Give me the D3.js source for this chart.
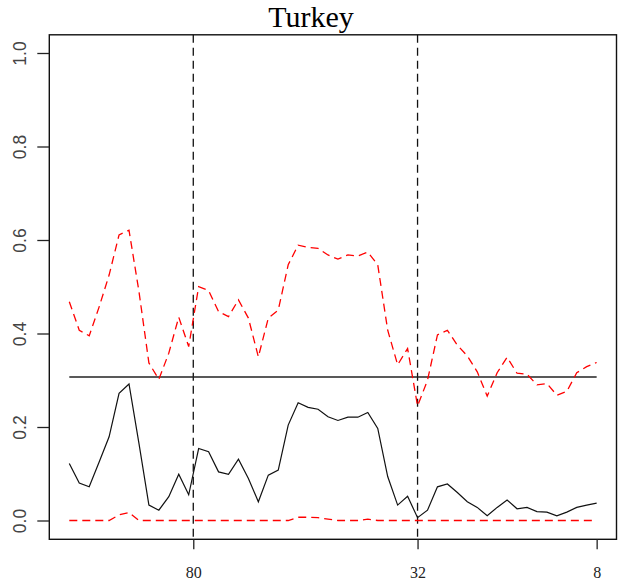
<!DOCTYPE html>
<html>
<head>
<meta charset="utf-8">
<script src="https://cdn.jsdelivr.net/npm/d3@7"></script>
<style>
  html, body { margin: 0; padding: 0; background: #fff; }
  svg { display: block; }
</style>
</head>
<body>
<svg id="chart" width="620" height="584"></svg>
<script>
// Estimated share (black), upper and lower bands (red dashed), per step
const estimate = [0.122, 0.080, 0.072, 0.125, 0.179, 0.272, 0.292, 0.165, 0.033, 0.022,
  0.051, 0.099, 0.055, 0.154, 0.147, 0.104, 0.099, 0.131, 0.090, 0.040,
  0.097, 0.108, 0.204, 0.252, 0.242, 0.238, 0.222, 0.214, 0.221, 0.221,
  0.231, 0.197, 0.094, 0.033, 0.052, 0.006, 0.022, 0.072, 0.078, 0.060,
  0.040, 0.028, 0.010, 0.028, 0.044, 0.025, 0.028, 0.019, 0.018, 0.010,
  0.018, 0.028, 0.033, 0.037];
const upper = [0.468, 0.407, 0.395, 0.457, 0.525, 0.611, 0.621, 0.490, 0.337, 0.302,
  0.358, 0.435, 0.372, 0.500, 0.492, 0.447, 0.436, 0.472, 0.433, 0.350,
  0.433, 0.450, 0.547, 0.589, 0.584, 0.582, 0.568, 0.559, 0.568, 0.566,
  0.574, 0.547, 0.407, 0.333, 0.368, 0.245, 0.300, 0.397, 0.407, 0.375,
  0.352, 0.318, 0.266, 0.316, 0.349, 0.315, 0.313, 0.290, 0.293, 0.268,
  0.276, 0.316, 0.329, 0.338];
const lower = [0, 0, 0, 0, 0, 0.012, 0.017, 0, 0, 0,
  0, 0, 0, 0, 0, 0, 0, 0, 0, 0,
  0, 0, 0, 0.007, 0.007, 0.006, 0.003, 0, 0, 0,
  0.003, 0, 0, 0, 0, 0, 0, 0, 0, 0,
  0, 0, 0, 0, 0, 0, 0, 0, 0, 0,
  0, 0, 0, 0];
const reference = 0.307;

// x-axis tick labels and their positions along the step index
const xTickLabels = ["80", "32", "8"];
const xTickIndex = [12.46, 35, 53];
// vertical markers drawn at these labels
const markerLabels = ["80", "32"];
const yTicks = [0, 0.2, 0.4, 0.6, 0.8, 1.0];

const svg = d3.select("#chart");
const box = { left: 49.3, right: 616.5, top: 34.8, bottom: 539.3 };

const n = estimate.length;
const x = d3.scaleLinear().domain([0, n - 1]).range([69.3, 596.65]);
const y = d3.scaleLinear().domain([0, 1]).range([520.5, 53]);

const line = d3.line().x((d, i) => x(i)).y(d => y(d));

// title
svg.append("text")
  .attr("x", 311).attr("y", 27)
  .attr("text-anchor", "middle")
  .attr("font-family", "'Liberation Serif', 'Times New Roman', serif")
  .attr("font-size", 30)
  .attr("fill", "#000")
  .text("Turkey");

// vertical markers
markerLabels.forEach(lab => {
  const xi = xTickIndex[xTickLabels.indexOf(lab)];
  svg.append("line")
    .attr("x1", x(xi)).attr("x2", x(xi))
    .attr("y1", box.top).attr("y2", box.bottom)
    .attr("stroke", "#111").attr("stroke-width", 1.3)
    .attr("stroke-dasharray", "8,5");
});

// reference level
svg.append("line")
  .attr("x1", x(0)).attr("x2", x(n - 1))
  .attr("y1", y(reference)).attr("y2", y(reference))
  .attr("stroke", "#222").attr("stroke-width", 1.3);

// bands
[upper, lower].forEach(series => {
  svg.append("path")
    .datum(series)
    .attr("d", line)
    .attr("fill", "none")
    .attr("stroke", "#ff0000")
    .attr("stroke-width", 1.3)
    .attr("stroke-dasharray", "8,5");
});

// estimate
svg.append("path")
  .datum(estimate)
  .attr("d", line)
  .attr("fill", "none")
  .attr("stroke", "#111")
  .attr("stroke-width", 1.2);

// frame
svg.append("rect")
  .attr("x", box.left).attr("y", box.top)
  .attr("width", box.right - box.left).attr("height", box.bottom - box.top)
  .attr("fill", "none").attr("stroke", "#111").attr("stroke-width", 1.4);

// y axis
const yAxis = d3.axisLeft(y).tickValues(yTicks).tickFormat(d3.format(".1f"))
  .tickSize(12).tickSizeOuter(0);
const gy = svg.append("g").attr("transform", `translate(${box.left},0)`).call(yAxis);
gy.select(".domain").remove();
gy.selectAll(".tick line").attr("stroke", "#222").attr("stroke-width", 1.3);
gy.selectAll(".tick text")
  .attr("font-family", "'Liberation Sans', Arial, sans-serif")
  .attr("font-size", 17.5)
  .attr("fill", "#444")
  .attr("x", 0).attr("dy", 0)
  .attr("text-anchor", "middle")
  .attr("transform", "translate(-23,0) rotate(-90)");

// x axis
const xAxis = d3.axisBottom(x).tickValues(xTickIndex)
  .tickFormat((d, i) => xTickLabels[i])
  .tickSize(10).tickSizeOuter(0);
const gx = svg.append("g").attr("transform", `translate(0,${box.bottom})`).call(xAxis);
gx.select(".domain").remove();
gx.selectAll(".tick line").attr("stroke", "#222").attr("stroke-width", 1.3);
gx.selectAll(".tick text")
  .attr("font-family", "'Liberation Serif', 'Times New Roman', serif")
  .attr("font-size", 16)
  .attr("fill", "#222")
  .attr("y", 33).attr("dy", "0.35em");
</script>
</body>
</html>
